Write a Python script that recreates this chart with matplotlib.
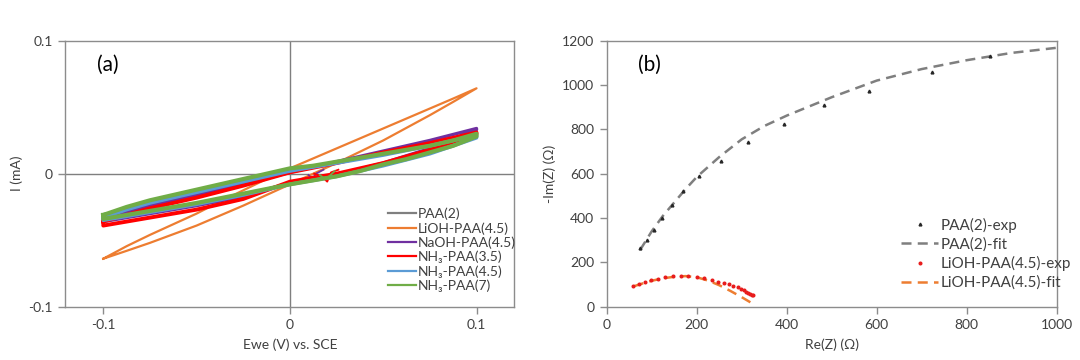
import matplotlib
matplotlib.use("Agg")
import matplotlib.pyplot as plt
import numpy as np

plt.rcParams['font.family'] = ['Lato', 'DejaVu Sans']

# ---------------- Panel (a) data: cyclic voltammograms ----------------
E = [-0.1, -0.0875, -0.075, -0.0625, -0.05, -0.0375, -0.025, -0.0125, 0.0,
     0.0125, 0.025, 0.0375, 0.05, 0.0625, 0.075, 0.0875, 0.1]

cv_labels = ['PAA(2)', 'LiOH-PAA(4.5)', 'NaOH-PAA(4.5)',
             'NH₃-PAA(3.5)', 'NH₃-PAA(4.5)', 'NH₃-PAA(7)']
cv_colors = ['#7f7f7f', '#ed7d31', '#7030a0', '#ff0000', '#5b9bd5', '#70ad47']

paa2_up = [-0.033, -0.028, -0.023, -0.019, -0.015, -0.011, -0.007, -0.0025, 0.002,
           0.005, 0.008, 0.0115, 0.015, 0.0185, 0.022, 0.0265, 0.031]
paa2_lo = [-0.035, -0.032, -0.029, -0.026, -0.023, -0.0195, -0.016, -0.0115, -0.007,
           -0.004, -0.001, 0.003, 0.007, 0.0115, 0.016, 0.0225, 0.029]
lioh_up = [-0.0639, -0.0545, -0.046, -0.038, -0.030, -0.021, -0.0125, -0.004, 0.004,
           0.0115, 0.019, 0.0265, 0.034, 0.0415, 0.049, 0.0565, 0.0642]
lioh_lo = [-0.0639, -0.058, -0.052, -0.0455, -0.039, -0.0315, -0.024, -0.016, -0.008,
           0.000, 0.008, 0.0165, 0.025, 0.0345, 0.044, 0.054, 0.0642]
naoh_up = [-0.034, -0.029, -0.024, -0.020, -0.016, -0.012, -0.008, -0.0035, 0.001,
           0.005, 0.009, 0.013, 0.017, 0.021, 0.025, 0.0295, 0.034]
naoh_lo = [-0.036, -0.033, -0.030, -0.027, -0.024, -0.0205, -0.017, -0.012, -0.007,
           -0.004, -0.001, 0.0035, 0.008, 0.0135, 0.019, 0.026, 0.033]
nh35_up = [-0.036, -0.031, -0.026, -0.022, -0.018, -0.0135, -0.009, -0.004, 0.001,
           0.0045, 0.008, 0.012, 0.016, 0.0195, 0.023, 0.027, 0.031]
nh35_lo = [-0.039, -0.036, -0.033, -0.030, -0.027, -0.023, -0.019, -0.0125, -0.006,
           -0.003, 0.000, 0.004, 0.008, 0.013, 0.018, 0.024, 0.030]
nh45_up = [-0.033, -0.027, -0.022, -0.018, -0.014, -0.010, -0.006, -0.002, 0.002,
           0.005, 0.008, 0.011, 0.014, 0.0175, 0.021, 0.025, 0.029]
nh45_lo = [-0.035, -0.032, -0.029, -0.026, -0.023, -0.0195, -0.016, -0.012, -0.008,
           -0.005, -0.002, 0.002, 0.006, 0.0105, 0.015, 0.021, 0.027]
nh7_up = [-0.031, -0.025, -0.020, -0.016, -0.012, -0.008, -0.004, 0.000, 0.004,
          0.006, 0.009, 0.012, 0.015, 0.018, 0.021, 0.025, 0.030]
nh7_lo = [-0.034, -0.031, -0.028, -0.025, -0.022, -0.0185, -0.015, -0.0115, -0.008,
          -0.005, -0.002, 0.002, 0.007, 0.011, 0.016, 0.021, 0.028]

cv_up = [paa2_up, lioh_up, naoh_up, nh35_up, nh45_up, nh7_up]
cv_lo = [paa2_lo, lioh_lo, naoh_lo, nh35_lo, nh45_lo, nh7_lo]
cv_lw = [2.0, 1.6, 2.4, 2.8, 2.6, 3.0]

# start-of-scan transients
start_E = {2: [0.010, 0.012, 0.014, 0.018],
           3: [0.013, 0.017, 0.020, 0.022, 0.026],
           5: [0.016, 0.019, 0.021, 0.024]}
start_I = {2: [-0.001, -0.004, 0.000, 0.003],
           3: [0.000, -0.002, -0.006, 0.001, 0.003],
           5: [-0.001, -0.004, -0.002, 0.002]}

# ---------------- Panel (b) data: Nyquist plot ----------------
paa2_exp_re = [74, 90, 105, 123, 146, 169, 205, 255, 313, 395, 483, 583, 722, 851]
paa2_exp_im = [264, 303, 347, 400, 457, 520, 591, 659, 743, 825, 908, 975, 1061, 1132]
paa2_fit_re = [74, 100, 125, 150, 175, 200, 250, 300, 350, 400, 500, 600, 700, 800, 900, 1000]
paa2_fit_im = [255, 340, 410, 470, 530, 585, 675, 755, 815, 862, 945, 1020, 1072, 1112, 1145, 1168]
lioh_exp_re = [59, 72, 85, 98, 113, 130, 148, 165, 181, 200, 216, 233, 248, 261, 272,
               281, 291, 298, 304, 309, 314, 318, 322, 325]
lioh_exp_im = [94, 104, 112, 119, 127, 133, 138, 139, 138, 135, 129, 120, 113, 107, 101,
               95, 88, 80, 74, 68, 63, 59, 55, 51]
lioh_fit_re = [60, 80, 100, 125, 150, 175, 200, 225, 250, 275, 300, 325]
lioh_fit_im = [92, 105, 117, 128, 135, 138, 133, 118, 97, 71, 43, 13]

txt = '#404040'
spine_c = '#8c8c8c'

fig = plt.figure(figsize=(10.8, 3.6), dpi=100)
axa = fig.add_axes([65.4 / 1080, 1 - 306.7 / 360, 449 / 1080, 266 / 360])
axb = fig.add_axes([606.7 / 1080, 1 - 306.7 / 360, 450 / 1080, 266 / 360])

for ax in (axa, axb):
    for s in ax.spines.values():
        s.set_color(spine_c)
        s.set_linewidth(1.0)
    ax.tick_params(direction='out', length=5, width=1, color=spine_c,
                   labelcolor=txt, labelsize=10, pad=4)

# ---- (a)
axa.axhline(0, color='#7f7f7f', lw=1.0, zorder=1)
axa.axvline(0, color='#7f7f7f', lw=1.0, zorder=1)
for i in range(len(cv_labels)):
    x = list(E) + list(E[::-1]) + [E[0]]
    y = list(cv_up[i]) + list(cv_lo[i][::-1]) + [cv_up[i][0]]
    axa.plot(x, y, color=cv_colors[i], lw=cv_lw[i], label=cv_labels[i],
             solid_joinstyle='round', zorder=2 + i)
    if i in start_E:
        axa.plot(start_E[i], start_I[i], color=cv_colors[i], lw=1.3, zorder=2 + i)

axa.set_xlim(-0.1203, 0.1203)
axa.set_ylim(-0.1, 0.1)
axa.set_xticks([-0.1, 0, 0.1])
axa.set_xticklabels(['-0.1', '0', '0.1'])
axa.set_yticks([-0.1, 0, 0.1])
axa.set_yticklabels(['-0.1', '0', '0.1'])
axa.set_xlabel('Ewe (V) vs. SCE', color=txt, fontsize=10, labelpad=5)
axa.set_ylabel('I (mA)', color=txt, fontsize=10, labelpad=4)
axa.text(0.07, 0.91, '(a)', transform=axa.transAxes, fontsize=15, color='black',
         va='center', ha='left')
leg = axa.legend(loc='upper left', bbox_to_anchor=(0.718, 0.372), frameon=False,
                 fontsize=10, handlelength=2.05, handletextpad=0.1,
                 labelspacing=0.13, borderpad=0, borderaxespad=0)
for t in leg.get_texts():
    t.set_color(txt)
for h in leg.get_lines():
    h.set_linewidth(1.6)

# ---- (b)
axb.plot(paa2_exp_re, paa2_exp_im, linestyle='none', marker='^', ms=2.0,
         color='#262626', label='PAA(2)-exp', zorder=4)
axb.plot(paa2_fit_re, paa2_fit_im, linestyle=(0, (4, 2.5)), lw=1.8,
         color='#7f7f7f', label='PAA(2)-fit', zorder=3)
axb.plot(lioh_exp_re, lioh_exp_im, linestyle='none', marker='o', ms=1.9,
         color='#e81c1c', label='LiOH-PAA(4.5)-exp', zorder=4)
axb.plot(lioh_fit_re, lioh_fit_im, linestyle=(0, (4, 2.5)), lw=1.8,
         color='#ed7d31', label='LiOH-PAA(4.5)-fit', zorder=3)

axb.set_xlim(0, 1000)
axb.set_ylim(0, 1200)
axb.set_xticks(np.arange(0, 1001, 200))
axb.set_yticks(np.arange(0, 1201, 200))
axb.set_xlabel('Re(Z) (Ω)', color=txt, fontsize=10, labelpad=5)
axb.set_ylabel('-Im(Z) (Ω)', color=txt, fontsize=10, labelpad=4)
axb.text(0.07, 0.91, '(b)', transform=axb.transAxes, fontsize=15, color='black',
         va='center', ha='left')
legb = axb.legend(loc='upper left', bbox_to_anchor=(0.655, 0.335), frameon=False,
                  fontsize=11, handlelength=2.4, handletextpad=0.15,
                  labelspacing=0.3, borderpad=0, borderaxespad=0, markerscale=1.0)
for t in legb.get_texts():
    t.set_color(txt)

fig.savefig('out.png', dpi=100, facecolor='white')
